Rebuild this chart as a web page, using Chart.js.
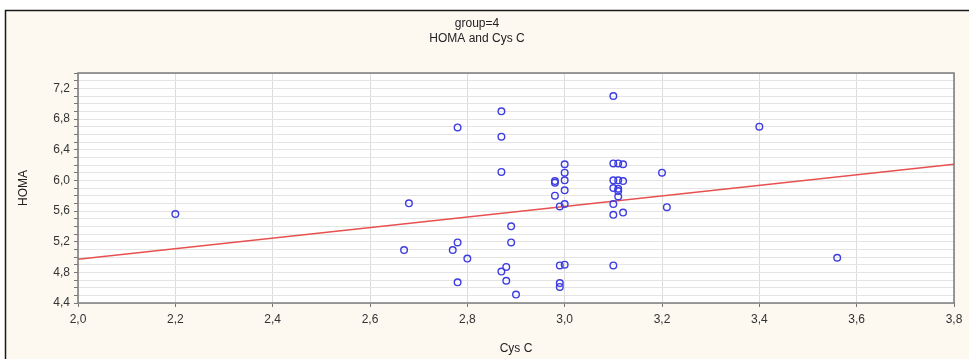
<!DOCTYPE html>
<html><head><meta charset="utf-8">
<script src="https://cdn.jsdelivr.net/npm/chart.js@4/dist/chart.umd.min.js"></script>
<style>html,body{margin:0;padding:0;background:#fff}#wrap{width:969px;height:359px}</style>
</head><body><div id="wrap"><canvas id="c" width="969" height="359"></canvas></div>
<script>
const titleLines = ['group=4', 'HOMA and Cys C'];
const xTitle = 'Cys C';
const yTitle = 'HOMA';
const cysC = [2.20,2.67,2.68,2.77,2.78,2.78,2.78,2.80,2.87,2.87,2.87,2.87,2.88,2.88,2.89,2.89,2.90,
  2.98,2.98,2.98,2.99,2.99,2.99,2.99,3.00,3.00,3.00,3.00,3.00,3.00,
  3.10,3.10,3.11,3.12,3.10,3.11,3.12,3.10,3.11,3.11,3.11,3.10,3.10,3.12,3.10,3.20,3.21,3.40,3.56];
const homa = [5.56,5.09,5.70,5.09,5.19,4.67,6.69,4.98,6.90,6.57,6.11,4.81,4.87,4.69,5.40,5.19,4.51,
  5.99,5.97,5.80,5.66,4.89,4.66,4.61,6.21,6.10,6.00,5.87,5.69,4.90,
  7.10,6.22,6.22,6.21,6.00,6.00,5.99,5.90,5.89,5.86,5.79,5.69,5.55,5.58,4.89,6.10,5.65,6.70,4.99];
const fitX = [2.0, 3.8];
const fitY = [4.97, 6.21];

const frame = {
  id: 'frame',
  beforeDraw(chart) {
    const ctx = chart.ctx, a = chart.chartArea;
    ctx.save();
    ctx.fillStyle = '#ffffff';
    ctx.fillRect(0, 0, chart.width, chart.height);
    ctx.fillStyle = '#fdf9f1';
    ctx.fillRect(6, 11, chart.width - 6, chart.height - 11);
    ctx.strokeStyle = '#1a1a1a';
    ctx.lineWidth = 1.5;
    ctx.beginPath();
    ctx.moveTo(5.5, chart.height);
    ctx.lineTo(5.5, 10.5);
    ctx.lineTo(chart.width, 10.5);
    ctx.stroke();
    ctx.fillStyle = '#ffffff';
    ctx.fillRect(a.left, a.top, a.right - a.left, a.bottom - a.top);
    ctx.restore();
  },
  afterDatasetsDraw(chart) {
    const ctx = chart.ctx, a = chart.chartArea;
    ctx.save();
    ctx.strokeStyle = '#7a7a7a';
    ctx.lineWidth = 1.5;
    ctx.strokeRect(a.left, a.top, a.right - a.left, a.bottom - a.top);
    ctx.restore();
  }
};

const font = { family: '"Liberation Sans", Arial, sans-serif', size: 12 };
const fmt = v => v.toFixed(1).replace('.', ',');

new Chart(document.getElementById('c'), {
  type: 'scatter',
  data: {
    datasets: [
      {
        type: 'line',
        data: fitX.map((x, i) => ({ x, y: fitY[i] })),
        borderColor: 'rgb(232,80,80)',
        borderWidth: 1.5,
        pointRadius: 0,
        fill: false,
        order: 2
      },
      {
        data: cysC.map((x, i) => ({ x, y: homa[i] })),
        pointStyle: 'circle',
        pointRadius: 3.3,
        borderWidth: 1.4,
        borderColor: 'rgb(60,60,225)',
        backgroundColor: 'rgba(0,0,0,0)',
        order: 1
      }
    ]
  },
  options: {
    responsive: false,
    animation: false,
    devicePixelRatio: 1,
    layout: { padding: { left: 0, right: 15, top: 0, bottom: 0 } },
    plugins: {
      legend: { display: false },
      tooltip: { enabled: false },
      title: {
        display: true,
        text: titleLines,
        color: '#222',
        font: { family: font.family, size: 12, weight: 'normal', lineHeight: 1.25 },
        padding: { top: 16.5, bottom: 26.5 }
      }
    },
    scales: {
      x: {
        type: 'linear',
        min: 2.0, max: 3.8,
        afterFit(s) { s.height = 56; },
        ticks: { stepSize: 0.2, color: '#333', font, padding: 5, autoSkip: false, maxRotation: 0,
          callback: v => fmt(v) },
        grid: { color: '#dcdcdc', tickLength: 4, tickColor: '#777', lineWidth: 1 },
        border: { display: false },
        title: { display: true, text: xTitle, color: '#222', font, padding: { top: 0, bottom: 3 } }
      },
      y: {
        type: 'linear',
        min: 4.4, max: 7.4,
        afterFit(s) { s.width = 78; },
        ticks: { stepSize: 0.1, color: '#333', font, padding: 4, autoSkip: false,
          callback: v => { const k = Math.round(v * 10); return ((k - 44) % 4 === 0) ? fmt(k / 10) : ''; } },
        grid: { color: '#e4e4e4', tickLength: 4, tickColor: '#777', lineWidth: 1 },
        border: { display: false },
        title: { display: true, text: yTitle, color: '#222', font, padding: { top: 16, bottom: 0 } }
      }
    }
  },
  plugins: [frame]
});
</script></body></html>
